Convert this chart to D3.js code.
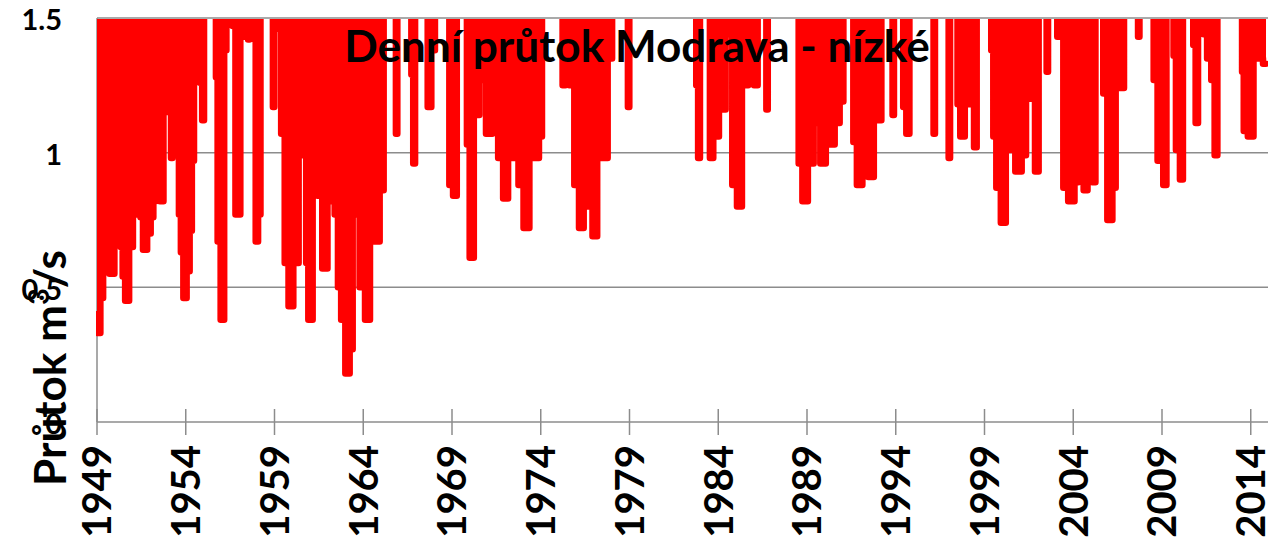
<!DOCTYPE html>
<html><head><meta charset="utf-8">
<script src="https://cdn.jsdelivr.net/npm/d3@7"></script>
<style>body{margin:0;background:#fff;} svg{display:block;}</style>
</head><body><svg id="c" width="1268" height="541"></svg>
<script>
// ---- data (decimal year, flow m3/s); values above 1.5 are off-chart ----
const dates = [
 1949.00,1949.10,1949.28,1949.41,1949.55,1949.85,1950.11,1950.26,1950.41,1950.48,
 1950.69,1950.93,1951.12,1951.31,1951.42,1951.48,1951.70,1951.95,1952.10,1952.25,
 1952.36,1952.45,1952.64,1952.85,1952.93,1953.13,1953.21,1953.29,1953.47,1953.55,
 1953.68,1953.77,1953.96,1954.14,1954.30,1954.39,1954.54,1954.65,1954.73,1954.86,
 1954.99,1955.07,1955.66,1955.74,1955.85,1956.08,1956.25,1956.33,1956.60,1956.68,
 1956.92,1957.23,1957.31,1957.47,1957.55,1957.63,1957.90,1957.98,1958.17,1958.25,
 1958.87,1958.95,1959.03,1959.19,1959.27,1959.48,1959.67,1959.91,1960.21,1960.51,
 1960.74,1960.83,1960.98,1961.32,1961.52,1961.86,1962.11,1962.30,1962.48,1962.67,
 1962.84,1963.14,1963.33,1963.48,1963.66,1963.93,1964.27,1964.49,1964.74,1965.11,
 1965.19,1965.80,1965.88,1965.96,1966.67,1966.75,1966.88,1966.96,1967.59,1967.67,
 1968.00,1968.08,1968.81,1968.89,1969.23,1969.31,1969.80,1969.88,1970.11,1970.35,
 1970.73,1971.10,1971.44,1971.76,1972.00,1972.32,1972.64,1972.85,1973.21,1973.51,
 1973.77,1974.03,1974.11,1975.19,1975.27,1975.50,1975.72,1976.06,1976.25,1976.59,
 1976.77,1977.06,1977.30,1977.56,1977.98,1978.06,1978.87,1978.95,1979.03,1982.72,
 1982.80,1982.93,1983.01,1983.49,1983.57,1983.87,1984.21,1984.62,1984.96,1985.15,
 1985.52,1985.85,1986.18,1986.26,1986.67,1986.75,1986.83,1988.49,1988.57,1988.91,
 1989.19,1989.56,1989.94,1990.18,1990.45,1990.67,1991.01,1991.09,1991.57,1991.65,
 1991.97,1992.27,1992.64,1992.89,1993.15,1993.23,1993.78,1993.86,1993.94,1994.38,
 1994.46,1994.73,1994.81,1996.09,1996.17,1996.25,1996.94,1997.02,1997.10,1997.44,
 1997.52,1997.75,1998.03,1998.30,1998.52,1998.60,1999.34,1999.42,1999.57,1999.76,
 2000.08,2000.32,2000.51,2000.96,2001.23,2001.45,2001.68,2002.01,2002.09,2002.46,
 2002.54,2002.62,2003.06,2003.14,2003.22,2003.40,2003.48,2003.95,2004.19,2004.38,
 2004.49,2004.68,2004.93,2005.21,2005.29,2005.65,2005.73,2006.11,2006.30,2006.48,
 2006.82,2006.90,2007.61,2007.69,2007.77,2008.49,2008.57,2008.93,2009.21,2009.29,
 2009.61,2009.69,2009.88,2010.14,2010.22,2010.72,2010.80,2010.99,2011.07,2011.30,
 2011.38,2011.70,2011.85,2012.08,2012.16,2013.47,2013.55,2013.66,2014.01,2014.30,
 2014.52,2014.86
];
const flows = [
 0.40,0.33,0.46,1.25,0.90,0.55,0.77,1.12,0.65,0.54,
 0.45,0.65,0.77,0.98,1.12,0.76,0.64,0.70,0.76,0.82,
 0.88,1.22,0.82,1.15,5,   5,   0.98,5,   5,   1.15,
 0.77,0.63,0.46,0.56,0.71,0.97,1.36,1.39,5,   1.26,
 1.12,5,   5,   1.28,0.67,0.38,1.38,5,   5,   1.47,
 0.77,1.43,5,   5,   1.42,5,   5,   0.67,0.77,5,
 5,   1.17,5,   5,   1.46,1.07,0.59,0.43,0.59,0.99,
 1.06,0.59,0.38,1.06,0.84,0.57,0.82,1.27,0.77,0.50,
 0.38,0.18,0.27,1.17,0.77,0.50,0.38,1.07,0.67,0.86,
 5,   5,   1.07,5,   5,   1.29,0.96,5,   5,   1.17,
 1.38,5,   5,   0.88,0.84,5,   5,   1.03,0.61,1.14,
 1.27,1.07,5,   0.98,0.83,0.98,0.98,0.88,0.72,0.98,
 0.98,1.06,5,   5,   1.25,1.35,1.25,0.88,0.72,1.07,
 0.80,0.69,5,   0.98,1.35,5,   5,   1.17,5,   5,
 1.25,0.98,5,   5,   0.98,1.06,1.16,1.44,0.88,0.80,
 1.25,1.44,1.25,5,   5,   1.16,5,   5,   0.96,0.82,
 0.96,1.11,0.96,1.11,1.03,1.11,1.19,5,   5,   1.04,
 0.88,1.15,0.91,1.14,1.12,5,   5,   1.14,5,   5,
 1.17,1.07,5,   5,   1.07,5,   5,   0.98,5,   5,
 1.18,1.06,1.18,1.20,1.02,5,   5,   1.38,1.06,0.87,
 0.74,1.22,1.01,0.93,0.99,1.21,1.20,0.93,5,   5,
 1.30,5,   5,   1.43,5,   5,   0.87,0.82,0.89,5,
 0.96,0.86,0.96,0.89,5,   5,   1.22,0.75,0.87,1.44,
 1.24,5,   5,   1.43,5,   5,   1.27,0.97,0.88,5,
 5,   1.36,1.01,0.90,5,   5,   1.40,1.11,5,   5,
 1.44,1.35,1.27,0.99,5,   5,   1.30,1.08,1.06,1.35,
 1.35,1.33
];
const yearTicks = [1949,1954,1959,1964,1969,1974,1979,1984,1989,1994,1999,2004,2009,2014];
const yTickValues = [0, 0.5, 1, 1.5];
const yTickLabels = ["0", "0.5", "1", "1.5"];
const chartTitle = "Denní průtok Modrava - nízké";
const yTitleParts = ["Průtok m", "3", "/s"];

// ---- drawing ----
const W = 1268, H = 541;
const svg = d3.select("#c");
svg.append("rect").attr("width", W).attr("height", H).attr("fill", "#fff");

const x = d3.scaleLinear().domain([1949, 2015]).range([97, 97 + 66 * 17.75]);
const y = d3.scaleLinear().domain([0, 1.5]).range([422, 18]);
const grid = "#8c8c8c";

// gridlines
svg.append("g").selectAll("line").data(yTickValues.filter(v => v > 0)).join("line")
  .attr("x1", x(1949)).attr("x2", W).attr("y1", d => y(d)).attr("y2", d => y(d))
  .attr("stroke", grid).attr("stroke-width", 1.5);

// y axis line
svg.append("line").attr("x1", x(1949)).attr("x2", x(1949)).attr("y1", y(1.5)).attr("y2", y(0))
  .attr("stroke", grid).attr("stroke-width", 1.5);
// x axis line and crossing ticks
svg.append("line").attr("x1", x(1949)).attr("x2", W).attr("y1", y(0)).attr("y2", y(0))
  .attr("stroke", grid).attr("stroke-width", 1.5);
svg.append("g").selectAll("line").data(yearTicks).join("line")
  .attr("x1", d => x(d)).attr("x2", d => x(d)).attr("y1", y(0) - 13).attr("y2", y(0) + 13)
  .attr("stroke", grid).attr("stroke-width", 1.5);

// series
const table = dates.map((t, i) => ({ t, v: flows[i] }));
svg.append("clipPath").attr("id", "plotclip").append("rect")
  .attr("x", x(1949) - 1).attr("y", y(1.5) + 1).attr("width", W).attr("height", y(0) - y(1.5));
const gS = svg.append("g").attr("clip-path", "url(#plotclip)");
gS.append("path").datum(table)
  .attr("d", d3.area().curve(d3.curveStep).x(d => x(d.t)).y0(y(1.5) - 20).y1(d => y(d.v)))
  .attr("fill", "#ff0000");
gS.append("path").datum(table)
  .attr("d", d3.line().curve(d3.curveStep).x(d => x(d.t)).y(d => y(d.v)))
  .attr("fill", "none").attr("stroke", "#ff0000").attr("stroke-width", 6.5)
  .attr("stroke-linejoin", "round").attr("stroke-linecap", "round");

// x tick labels (rotated)
svg.append("g").selectAll("text").data(yearTicks).join("text")
  .attr("transform", d => `translate(${x(d)},445) rotate(-90)`)
  .attr("text-anchor", "end").attr("dy", "0.36em")
  .attr("font-family", "Lato, sans-serif").attr("font-weight", "bold")
  .attr("font-size", 40).attr("fill", "#000")
  .text(d => String(d));

// y tick labels
svg.append("g").selectAll("text").data(yTickValues).join("text")
  .attr("x", 62).attr("y", d => y(d) + 2).attr("dy", "0.36em")
  .attr("text-anchor", "end")
  .attr("font-family", "Lato, sans-serif").attr("font-weight", "bold")
  .attr("font-size", 29).attr("fill", "#000")
  .text((d, i) => yTickLabels[i]);

// y axis title
const yt = svg.append("text")
  .attr("transform", "translate(66,368) rotate(-90)")
  .attr("text-anchor", "middle")
  .attr("font-family", "Lato, sans-serif").attr("font-weight", "bold")
  .attr("font-size", 42).attr("fill", "#000");
yt.append("tspan").text(yTitleParts[0]);
yt.append("tspan").attr("baseline-shift", "super").attr("font-size", 28).text(yTitleParts[1]);
yt.append("tspan").text(yTitleParts[2]);
(function fit(node, target, fs) {
  const len = node.getComputedTextLength();
  if (len > 0) {
    const nf = fs * target / len;
    d3.select(node).attr("font-size", nf);
    d3.select(node).selectAll("tspan").filter((d, i) => i === 1).attr("font-size", nf * 0.66);
  }
})(yt.node(), 236, 42);

// chart title
const tt = svg.append("text")
  .attr("x", 637).attr("y", 62).attr("text-anchor", "middle")
  .attr("font-family", "Lato, sans-serif").attr("font-weight", "bold")
  .attr("font-size", 38).attr("fill", "#000").text(chartTitle);
(function () {
  const len = tt.node().getComputedTextLength();
  if (len > 0) tt.attr("font-size", 38 * 586 / len);
})();
</script>
</body></html>
